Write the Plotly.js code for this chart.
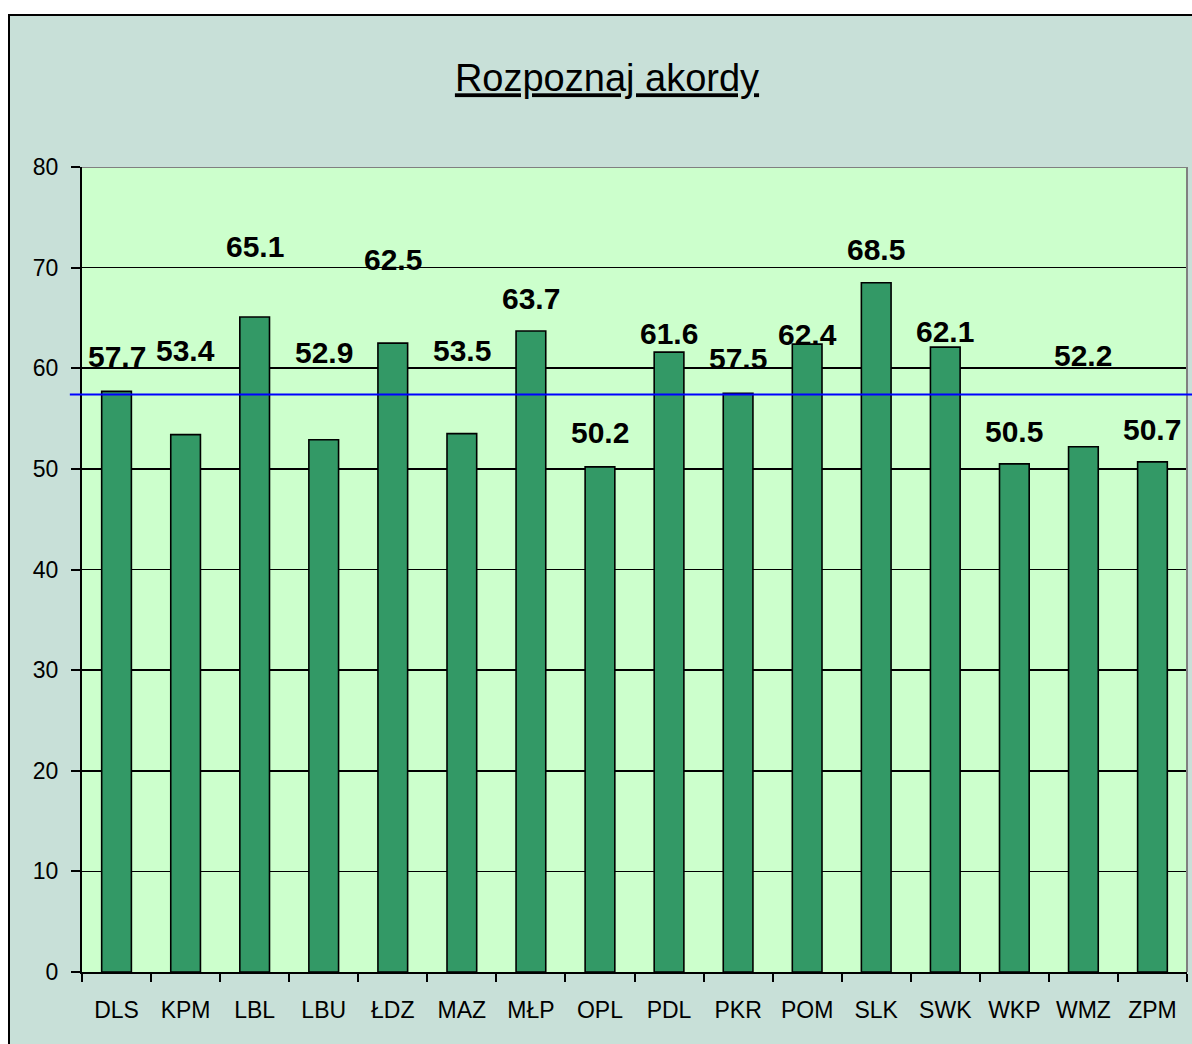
<!DOCTYPE html>
<html>
<head>
<meta charset="utf-8">
<script src="https://cdn.plot.ly/plotly-3.0.1.min.js"></script>
<style>
  html, body { margin: 0; padding: 0; background: #ffffff; overflow: hidden; width: 1192px; height: 1044px; }
  #frame { position: absolute; left: 8px; top: 14px; width: 1184px; height: 1030px; border-left: 2px solid #000; border-top: 2px solid #000; background: #C8E0D8; }
  #chart { position: absolute; left: 0; top: 0; width: 1182px; height: 1028px; }
</style>
</head>
<body>
<div id="frame"><div id="chart"></div></div>
<script>
// ---- data ----
const categories = ["DLS","KPM","LBL","LBU","ŁDZ","MAZ","MŁP","OPL","PDL","PKR","POM","SLK","SWK","WKP","WMZ","ZPM"];
const values = [57.7, 53.4, 65.1, 52.9, 62.5, 53.5, 63.7, 50.2, 61.6, 57.5, 62.4, 68.5, 62.1, 50.5, 52.2, 50.7];
const referenceLine = 57.4;
const yTicks = [0, 10, 20, 30, 40, 50, 60, 70, 80];
const titleText = "Rozpoznaj akordy";

// label placement (pixel shift of each value label above its bar, as in the original)
const labelShift = [35, 84, 70, 87, 84, 83, 33, 34, 19, 35, 10, 33, 16, 32, 91, 32];

const FONT = "Liberation Sans, Arial, sans-serif";

const trace = {
  type: "bar",
  x: categories,
  y: values,
  marker: { color: "#339966", line: { color: "#000000", width: 1.6 } },
  hoverinfo: "x+y"
};

const annotations = categories.map((c, i) => ({
  x: c, y: values[i], xref: "x", yref: "y",
  text: "<b>" + values[i].toFixed(1) + "</b>",
  showarrow: false,
  yshift: labelShift[i],
  font: { family: FONT, size: 30, color: "#000000" }
}));

const layout = {
  width: 1182, height: 1028,
  margin: { l: 72, r: 5, t: 151, b: 72 },
  paper_bgcolor: "#C8E0D8",
  plot_bgcolor: "#CCFFCC",
  showlegend: false,
  bargap: 0.57,
  title: {
    text: "<u>" + titleText + "</u>",
    font: { family: FONT, size: 38, color: "#000000" },
    x: 597/1182, xanchor: "center", xref: "container",
    y: 1 - 62/1028, yanchor: "middle", yref: "container"
  },
  xaxis: {
    type: "category",
    showline: true, linecolor: "#000000", linewidth: 2,
    ticks: "outside", tickson: "boundaries", ticklen: 8, tickwidth: 2, tickcolor: "#000000",
    showgrid: false,
    tickfont: { family: FONT, size: 23, color: "#000000" },
    ticklabelstandoff: 16,
    fixedrange: true
  },
  yaxis: {
    range: [0, 80],
    tickvals: yTicks,
    ticktext: yTicks.map(String),
    showline: true, linecolor: "#000000", linewidth: 2,
    ticks: "outside", ticklen: 9, tickwidth: 2, tickcolor: "#000000",
    showgrid: true, gridcolor: "#000000", gridwidth: 1.6,
    zeroline: false,
    tickfont: { family: FONT, size: 23, color: "#000000" },
    ticklabelstandoff: 8,
    fixedrange: true
  },
  shapes: [
    { type: "line", xref: "paper", yref: "y", x0: 0, x1: 1, y0: 80, y1: 80,
      line: { color: "#808080", width: 2 }, layer: "above" },
    { type: "line", xref: "paper", yref: "y", x0: 1, x1: 1, y0: 0, y1: 80,
      line: { color: "#808080", width: 2 }, layer: "above" },
    { type: "line", xref: "paper", yref: "y", x0: -0.011, x1: 1.01, y0: referenceLine, y1: referenceLine,
      line: { color: "#0000FF", width: 2 }, layer: "above" }
  ],
  annotations: annotations
};

Plotly.newPlot("chart", [trace], layout, { staticPlot: true, displayModeBar: false });
</script>
</body>
</html>
